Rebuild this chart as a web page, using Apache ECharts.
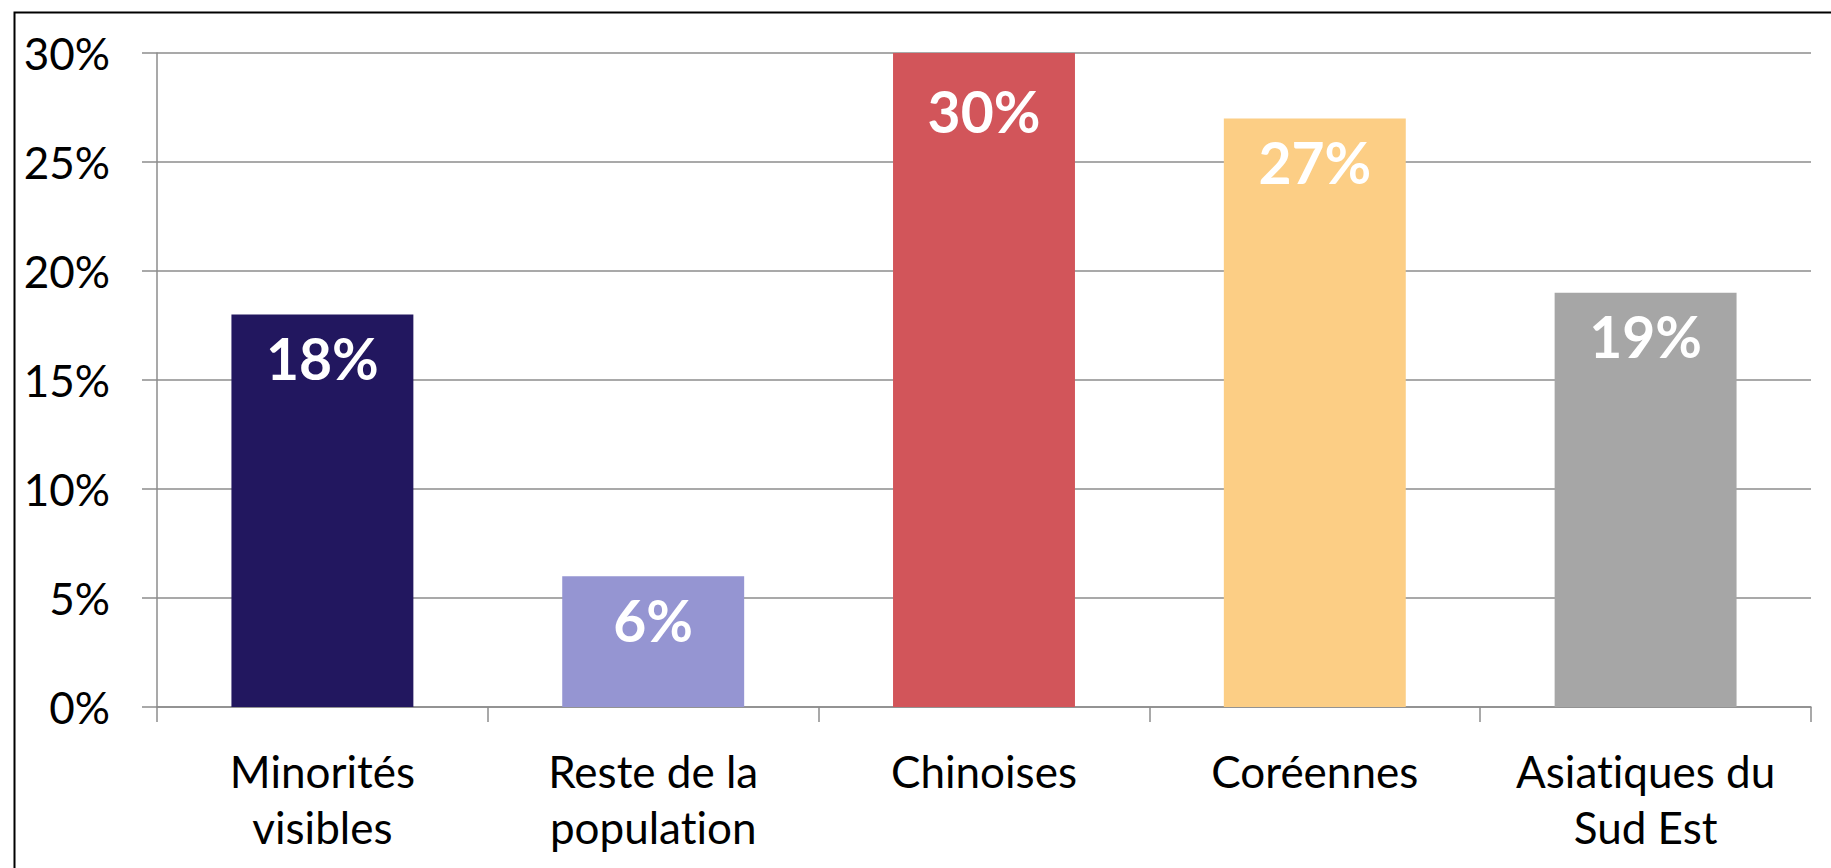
<!DOCTYPE html>
<html>
<head>
<meta charset="utf-8">
<script src="https://cdn.jsdelivr.net/npm/echarts@6/dist/echarts.min.js"></script>
<style>
  html, body { margin: 0; padding: 0; background: #fff; }
  #chart { width: 1831px; height: 868px; }
  /* Lato joins "ti" by default, the original text does not */
  #chart text { font-variant-ligatures: none; font-feature-settings: "liga" 0, "clig" 0; }
</style>
</head>
<body>
<div id="chart"></div>
<script>
const categories = ["Minorités\nvisibles", "Reste de la\npopulation", "Chinoises", "Coréennes", "Asiatiques du\nSud Est"];
const values = [18, 6, 30, 27, 19];
const barColors = ["#22175F", "#9595D2", "#D2555A", "#FCCE85", "#A6A6A6"];
const yTicks = [0, 5, 10, 15, 20, 25, 30];

const font = "Lato, 'Open Sans', sans-serif";
const gridColor = "#8c8c8c";

const chart = echarts.init(document.getElementById("chart"), null, { renderer: "svg" });

const barData = values.map((v, i) => {
  const item = { value: v, itemStyle: { color: barColors[i] } };
  // the top bar's label sits lower, as in the original
  if (i === 2) item.label = { distance: 29 };
  return item;
});

chart.setOption({
  animation: false,
  backgroundColor: "#fff",
  graphic: [
    {
      type: "rect",
      left: 12,
      top: 10,
      shape: { width: 1900, height: 1000 },
      style: { fill: "none", stroke: "#000", lineWidth: 2 },
      silent: true,
      z: -1,
    },
  ],
  grid: {
    left: 157,
    right: 20,
    top: 53,
    bottom: 161,
  },
  xAxis: {
    type: "category",
    data: categories,
    axisLine: { show: true, lineStyle: { color: gridColor, width: 1.5 } },
    axisTick: { show: true, length: 15, lineStyle: { color: gridColor, width: 1.5 } },
    axisLabel: {
      color: "#000",
      fontFamily: font,
      fontSize: 44,
      lineHeight: 56,
      margin: 36,
      interval: 0,
    },
  },
  yAxis: {
    type: "value",
    min: 0,
    max: 30,
    interval: 5,
    axisLine: { show: true, lineStyle: { color: gridColor, width: 1.5 } },
    axisTick: { show: true, length: 15, lineStyle: { color: gridColor, width: 1.5 } },
    splitLine: { show: true, lineStyle: { color: gridColor, width: 1.5 } },
    axisLabel: {
      color: "#000",
      fontFamily: font,
      fontSize: 44,
      margin: 47,
      formatter: (v) => (yTicks.includes(v) ? v + "%" : ""),
    },
  },
  series: [
    {
      type: "bar",
      data: barData,
      barWidth: "55%",
      label: {
        show: true,
        position: "insideTop",
        distance: 15,
        color: "#fff",
        fontFamily: font,
        fontWeight: "bold",
        fontSize: 57,
        formatter: (p) => p.value + "%",
      },
    },
  ],
});
</script>
</body>
</html>
